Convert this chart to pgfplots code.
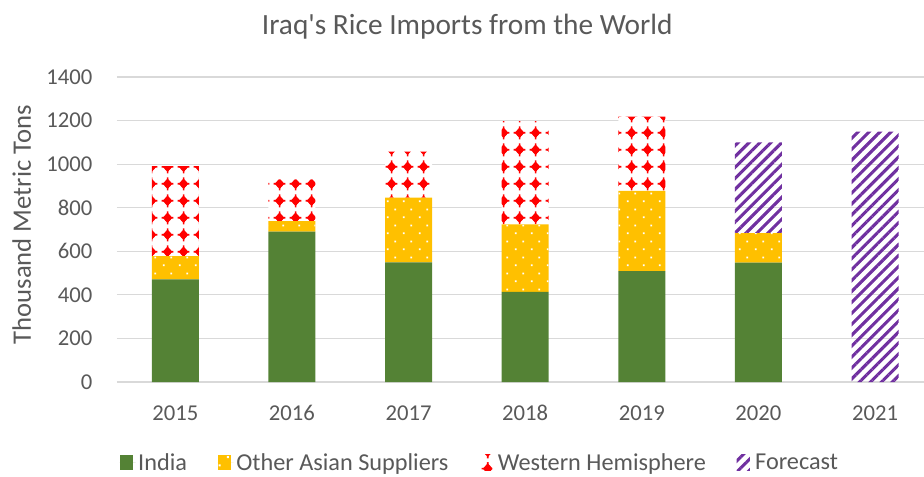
\documentclass[border=0pt]{standalone}
\usepackage{fontspec}
\setmainfont{Carlito}
\usepackage{pgfplots}
\pgfplotsset{compat=1.18}
\usetikzlibrary{patterns,patterns.meta}

\definecolor{indiag}{HTML}{548235}
\definecolor{asiay}{HTML}{FFC000}
\definecolor{westr}{HTML}{FF0000}
\definecolor{forep}{HTML}{7030A0}
\definecolor{txt}{HTML}{595959}
\definecolor{grd}{HTML}{D9D9D9}

\tikzdeclarepattern{
  name=asiadots, type=colored,
  bottom left={(0pt,0pt)}, top right={(12pt,12pt)},
  tile size={(12pt,12pt)},
  code={
    \fill[white] (2.3pt,2.3pt) rectangle (3.7pt,3.7pt);
    \fill[white] (8.3pt,8.3pt) rectangle (9.7pt,9.7pt);
  }
}
\tikzdeclarepattern{
  name=westdiam, type=colored,
  bottom left={(0pt,0pt)}, top right={(12pt,12.5pt)},
  tile size={(12pt,12.5pt)},
  code={
    \fill[westr] (6pt,2.2pt) -- (9.8pt,6.25pt) -- (6pt,10.3pt) -- (2.2pt,6.25pt) -- cycle;
    \fill[westr] (6pt,6.25pt) circle (2.7pt);
    \fill[westr] (5.4pt,1.3pt) rectangle (6.6pt,11.2pt);
    \fill[westr] (1.3pt,5.65pt) rectangle (10.7pt,6.85pt);
  }
}

\pgfplotstableread{
x india asia west fore
0 471 107 413 0
1 690 49 191 0
2 549 297 211 0
3 414 310 474 0
4 509 368 341 0
5 548 135 0 417
6 0 0 0 1149
}\ricedata

\begin{document}
\begin{tikzpicture}
\useasboundingbox (-87.75pt,-70.5pt) rectangle (605.25pt,286.5pt);
\begin{axis}[
  at={(0pt,0pt)}, anchor=south west,
  scale only axis,
  width=605.25pt, height=228.75pt,
  ybar stacked,
  bar width=35.25pt,
  xmin=-0.5, xmax=6.42,
  ymin=0, ymax=1400,
  ytick={0,200,...,1400},
  xtick={0,...,6},
  xticklabels={2015,2016,2017,2018,2019,2020,2021},
  axis line style={draw=none},
  major tick length=0pt,
  ymajorgrids,
  major grid style={draw=grd, line width=0.9pt},
  tick label style={font=\fontsize{17}{20}\selectfont, text=txt},
  /pgf/number format/assume math mode=true,
  /pgf/number format/1000 sep={},
  yticklabel style={xshift=-15pt},
  xticklabel style={yshift=-14pt},
  title={Iraq\textquotesingle s Rice Imports from the World},
  title style={font=\fontsize{22}{26}\selectfont, text=txt, at={(axis description cs:0.434,1.14)}, anchor=center},
  ylabel={Thousand Metric Tons},
  ylabel style={font=\fontsize{20}{24}\selectfont, text=txt, at={(axis description cs:-0.118,0.515)}, anchor=center},
  legend style={at={(axis description cs:0.45,-0.265)}, anchor=center, draw=none, legend columns=4,
    font=\fontsize{18.2}{22}\selectfont, text=txt, inner sep=1pt,
    /tikz/every even column/.append style={column sep=21pt},
    /tikz/every odd column/.append style={column sep=0pt}},
  legend image code/.code={\fill[#1] (0pt,-5.5pt) rectangle (10pt,6pt); \path (0pt,0pt) -- (12pt,0pt);},
]
\addplot[draw=none, fill=indiag] table[x=x, y=india] {\ricedata};
\addplot[draw=none, fill=asiay, postaction={pattern=asiadots}] table[x=x, y=asia] {\ricedata};
\addplot[draw=none, fill=white, postaction={pattern=westdiam}] table[x=x, y=west] {\ricedata};
\addplot[draw=none, pattern={Lines[angle=45,distance=5.8pt,line width=2.3pt]}, pattern color=forep] table[x=x, y=fore] {\ricedata};
\legend{India, Other Asian Suppliers, Western Hemisphere, Forecast}
\end{axis}
\end{tikzpicture}
\end{document}
